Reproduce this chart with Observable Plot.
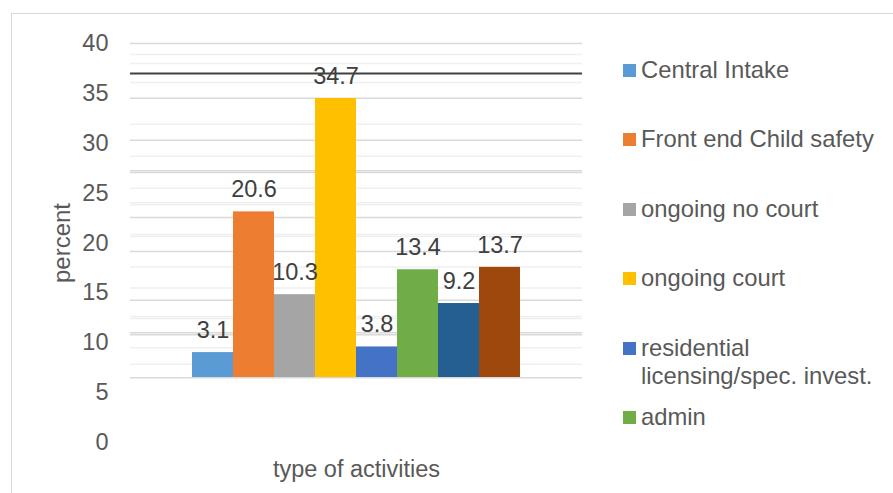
<!DOCTYPE html>
<html>
<head>
<meta charset="utf-8">
<script src="https://cdn.jsdelivr.net/npm/d3@7"></script>
<script src="https://cdn.jsdelivr.net/npm/@observablehq/plot@0.6"></script>
<style>
  html, body { margin: 0; padding: 0; background: #fff; }
  #wrap { position: relative; width: 893px; height: 493px; overflow: hidden; background: #fff;
          font-family: "Liberation Sans", Arial, sans-serif; }
  .layer { position: absolute; left: 0; top: 0; }
  #border { position: absolute; left: 11px; top: 13px; width: 900px; height: 500px;
            border-left: 1.5px solid #d9d9d9; border-top: 1.5px solid #d9d9d9; }
  #legend { position: absolute; left: 623px; top: 56px; width: 268px; height: 395px; overflow: hidden; }
  .item { height: 69.4px; display: flex; align-items: flex-start; }
  .sw { width: 13px; height: 13px; margin-top: 8px; margin-right: 5px; flex: none; }
  .lt { font-size: 23.8px; line-height: 28px; color: #595959; width: 250px; }
</style>
</head>
<body>
<div id="wrap">
  <div id="border"></div>
  <div id="axis" class="layer"></div>
  <div id="bars" class="layer"></div>
  <div id="legend"></div>
</div>
<script>
// ---- data ----
const activities = ["Central Intake", "Front end Child safety", "ongoing no court", "ongoing court",
                    "residential licensing/spec. invest.", "admin", "series 7", "series 8"];
const values = [3.1, 20.6, 10.3, 34.7, 3.8, 13.4, 9.2, 13.7];
const colors = ["#5B9BD5", "#ED7D31", "#A5A5A5", "#FFC000", "#4472C4", "#70AD47", "#255E91", "#9E480E"];
const legendShown = 6; // legend entries visible in the reference (rest are cut off)
const yTicks = [0, 5, 10, 15, 20, 25, 30, 35, 40];
const gridDark = [40, 34.5, 30.3, 27.25, 27.08, 22.55, 19.15, 14.25, 11.0, 10.8, 6.5];
const gridLight = [38.9, 38.0, 36.1, 31.9, 28.7, 25.5, 24.03, 23.83, 20.85, 20.65, 17.6, 15.5, 12.63, 12.43, 9.5, 7.85];
const blackRule = [37];
const yLabel = "percent";
const xLabel = "type of activities";

const data = activities.map((a, i) => ({ i, name: a, value: values[i] }));
const font = "'Liberation Sans', Arial, sans-serif";

// ---- axis / grid layer ----
const axisPlot = Plot.plot({
  width: 893, height: 493,
  marginLeft: 130, marginRight: 311, marginTop: 43, marginBottom: 51,
  style: { background: "transparent", fontFamily: font, fontSize: "23px", color: "#595959" },
  x: { domain: [0, 1], axis: null },
  y: { domain: [0, 40], range: [442, 43], ticks: yTicks, tickSize: 0, tickPadding: 22, label: null },
  marks: [
    Plot.ruleY(gridLight, { stroke: "#efefef", strokeWidth: 1.5 }),
    Plot.ruleY(gridDark, { stroke: "#d9d9d9", strokeWidth: 1.5 }),
    Plot.ruleY(blackRule, { stroke: "#404040", strokeWidth: 2 }),
    Plot.axisY({ ticks: yTicks, tickSize: 0, tickPadding: 22, label: null, fontSize: 23.5, fill: "#595959" }),
    Plot.text([yLabel], { frameAnchor: "left", textAnchor: "middle", lineAnchor: "middle", dx: -68, rotate: -90, fontSize: 24, fill: "#595959" }),
    Plot.text([xLabel], { frameAnchor: "bottom", textAnchor: "middle", lineAnchor: "middle", dy: 27, fontSize: 23.5, fill: "#595959" })
  ]
});
document.getElementById("axis").appendChild(axisPlot);

// ---- bars layer ----
const barPlot = Plot.plot({
  width: 893, height: 493,
  marginLeft: 130, marginRight: 311, marginTop: 43, marginBottom: 51,
  style: { background: "transparent", fontFamily: font, overflow: "visible" },
  x: { type: "band", domain: d3.range(activities.length), range: [192, 520], padding: 0, axis: null },
  y: { domain: [0, 34.7], range: [377, 98], axis: null },
  color: { domain: activities, range: colors },
  marks: [
    Plot.barY(data, { x: "i", y: "value", fill: "name", inset: 0 }),
    Plot.text(data, { x: "i", y: "value", text: d => d.value.toFixed(1), dy: -22, fontSize: 23.5, fill: "#404040" })
  ]
});
document.getElementById("bars").appendChild(barPlot);

// ---- legend ----
const legend = document.getElementById("legend");
activities.slice(0, legendShown).forEach((a, i) => {
  const item = document.createElement("div");
  item.className = "item";
  const sw = document.createElement("div");
  sw.className = "sw";
  sw.style.background = colors[i];
  const lt = document.createElement("div");
  lt.className = "lt";
  lt.textContent = a;
  item.appendChild(sw);
  item.appendChild(lt);
  legend.appendChild(item);
});
</script>
</body>
</html>
